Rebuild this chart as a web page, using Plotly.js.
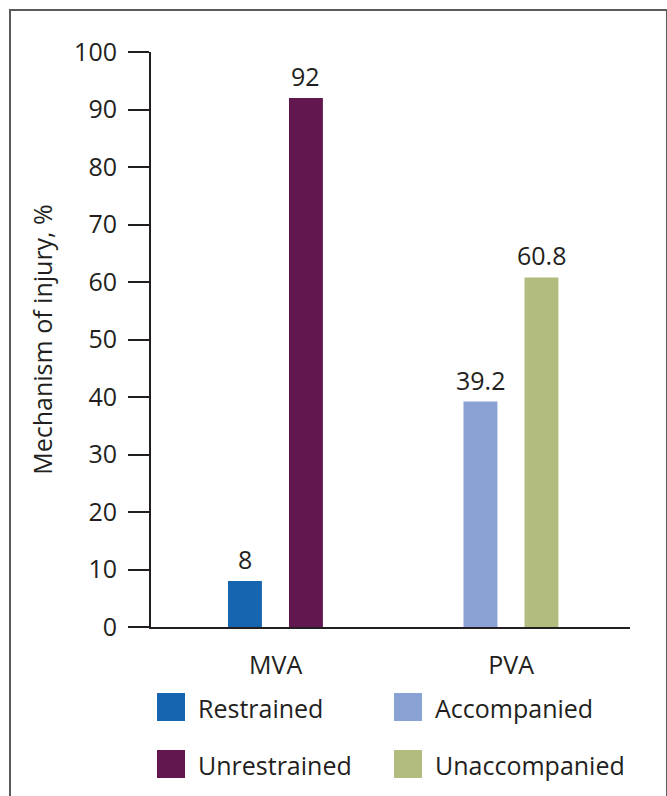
<!DOCTYPE html>
<html><head><meta charset="utf-8">
<script src="https://cdn.plot.ly/plotly-3.0.1.min.js"></script>
<style>
html,body{margin:0;padding:0;background:#fff;}
#wrap{position:relative;width:667px;height:796px;overflow:hidden;}
#chart{position:absolute;left:0;top:0;width:667px;height:796px;}
#frame{position:absolute;left:9px;top:9px;width:655px;height:820px;border:2px solid #5a5a5a;pointer-events:none;}
</style></head>
<body>
<div id="wrap"><div id="chart"></div><div id="frame"></div></div>
<script>
const categories = ['MVA', 'PVA'];
const seriesNames = ['Restrained', 'Unrestrained', 'Accompanied', 'Unaccompanied'];
const seriesCategory = ['MVA', 'MVA', 'PVA', 'PVA'];
const seriesValues = [8, 92, 39.2, 60.8];
const seriesColors = ['#1565b0', '#62184f', '#89a1d3', '#b1bc7e'];
const yTicks = [0, 10, 20, 30, 40, 50, 60, 70, 80, 90, 100];

const W = 667, H = 796;
const mL = 151, mR = 37, mT = 52, mB = 169;
const pw = W - mL - mR, ph = H - mT - mB;
const px2x = p => (p - mL) / pw;
const px2y = p => (H - mB - p) / ph;

const txt = '#231f20';
const font = 'Open Sans, Noto Sans, sans-serif';
const fs = 25;
const offsets = [-0.202, 0.057, -0.202, 0.057];
const barW = 0.144;

const traces = seriesNames.map((n, i) => ({
  type: 'bar',
  name: n,
  x: [seriesCategory[i]],
  y: [seriesValues[i]],
  offset: offsets[i],
  width: barW,
  marker: {color: seriesColors[i]},
  showlegend: false,
  hoverinfo: 'x+y+name'
}));

const shapes = [];
const annotations = [];

// value labels above bars
seriesNames.forEach((n, i) => {
  annotations.push({
    xref: 'x', yref: 'y',
    x: categories.indexOf(seriesCategory[i]) + offsets[i] + barW / 2,
    y: seriesValues[i],
    text: String(seriesValues[i]),
    xanchor: 'center', yanchor: 'bottom', yshift: 3,
    showarrow: false,
    font: {family: font, size: fs, color: txt}
  });
});

// custom legend (2 x 2 grid)
const legendOrder = [0, 2, 1, 3];
const colX = [157, 394];
const rowY = [693, 750];
legendOrder.forEach((si, k) => {
  const col = k % 2, row = Math.floor(k / 2);
  const x0 = colX[col], y0 = rowY[row];
  shapes.push({type: 'rect', xref: 'paper', yref: 'paper',
    x0: px2x(x0), x1: px2x(x0 + 28), y0: px2y(y0 + 28), y1: px2y(y0),
    fillcolor: seriesColors[si], line: {width: 0}});
  annotations.push({xref: 'paper', yref: 'paper', x: px2x(x0 + 39), y: px2y(y0 + 15),
    xanchor: 'left', yanchor: 'middle', showarrow: false, text: seriesNames[si],
    font: {family: font, size: fs, color: txt}});
});

const layout = {
  width: W, height: H,
  margin: {l: mL, r: mR, t: mT, b: mB, pad: 0},
  paper_bgcolor: '#fff', plot_bgcolor: '#fff',
  barmode: 'overlay',
  showlegend: false,
  font: {family: font, color: txt},
  xaxis: {
    type: 'category', categoryorder: 'array', categoryarray: categories,
    range: [-0.529, 1.505],
    showline: true, linecolor: txt, linewidth: 2,
    ticks: '', showgrid: false, zeroline: false,
    tickfont: {family: font, size: fs, color: txt},
    ticklabelstandoff: 15
  },
  yaxis: {
    range: [0, 100], tickvals: yTicks, ticktext: yTicks.map(String),
    showline: true, linecolor: txt, linewidth: 2,
    ticks: 'outside', ticklen: 21, tickwidth: 2, tickcolor: txt,
    showgrid: false, zeroline: false,
    tickfont: {family: font, size: fs, color: txt},
    ticklabelstandoff: 6,
    title: {text: 'Mechanism of injury, %', font: {family: font, size: 25, color: txt}, standoff: 14}
  },
  shapes: shapes,
  annotations: annotations
};

Plotly.newPlot('chart', traces, layout, {displayModeBar: false, staticPlot: true});
</script>
</body></html>
